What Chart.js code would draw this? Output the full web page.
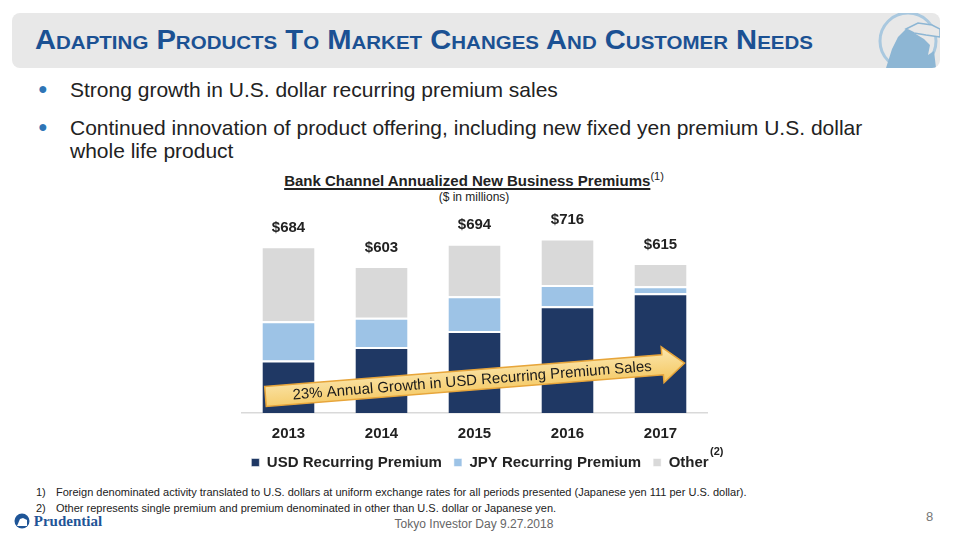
<!DOCTYPE html>
<html>
<head>
<meta charset="utf-8">
<script src="https://cdn.jsdelivr.net/npm/chart.js@4.4.0/dist/chart.umd.min.js"></script>
<style>
  html, body { margin: 0; padding: 0; background: #fff; }
  body { width: 960px; height: 540px; position: relative; overflow: hidden; font-family: "Liberation Sans", Arial, sans-serif; color: #222; }
  .titlebar { position: absolute; left: 12px; top: 13px; width: 928px; height: 55px; background: #E8E8E8; border-radius: 8px; overflow: hidden; }
  .title { position: absolute; left: 23px; top: 12px; font-size: 27px; font-weight: bold; font-variant: small-caps; color: #1B5193; white-space: nowrap; transform-origin: left top; }
  .logo { position: absolute; right: 0px; top: 0px; }
  .bullet { position: absolute; left: 38px; font-size: 21px; color: #222; }
  .bullet .dot { position: absolute; left: 0; color: #2E75B6; font-size: 16px; top: 2px; }
  .bullet .txt { position: absolute; left: 32px; white-space: nowrap; line-height: 23px; }
  .ctitle { position: absolute; left: 0; width: 948px; text-align: center; top: 170px; font-size: 15px; font-weight: bold; }
  .ctitle u { text-decoration-thickness: 1.5px; text-underline-offset: 2px; }
  .ctitle sup { font-weight: normal; font-size: 11px; }
  .csub { position: absolute; left: 0; width: 948px; text-align: center; top: 190px; font-size: 12px; }
  #wrap { position: absolute; left: 200px; top: 200px; width: 560px; height: 280px; }
  .sup2 { position: absolute; left: 710px; top: 445px; font-size: 11px; font-weight: bold; }
  .foot { position: absolute; left: 36px; font-size: 11px; }
  .foot span { position: absolute; left: 20px; white-space: nowrap; }
  .event { position: absolute; left: 0; width: 948px; text-align: center; top: 517px; font-size: 12px; color: #666; }
  .page { position: absolute; left: 926px; top: 509px; font-size: 13px; color: #777; }
  .pru { position: absolute; left: 14px; top: 513px; font-family: "Liberation Serif", serif; font-weight: bold; font-size: 15px; color: #1F5597; }
</style>
</head>
<body>
<div class="titlebar">
  <div class="title" id="title">Adapting Products To Market Changes And Customer Needs</div>
  <svg class="logo" width="76" height="55" viewBox="0 0 76 55">
    <circle cx="44" cy="28" r="28" fill="none" stroke="#A9C8DF" stroke-width="3"/>
    <path d="M22 55 L28 36 L34 24 L42 16 L50 20 L60 26 L66 32 L64 42 L70 38 L72 55 Z" fill="#8DB6D4"/>
    <path d="M42 16 L54 10 L68 12 L76 16 L76 24 L62 22 L50 20 Z" fill="#E8E8E8" stroke="#8DB6D4" stroke-width="1.5"/>
  </svg>
</div>

<div class="bullet" style="top:78px"><span class="dot">&#9679;</span><span class="txt">Strong growth in U.S. dollar recurring premium sales</span></div>
<div class="bullet" style="top:116px"><span class="dot">&#9679;</span><span class="txt">Continued innovation of product offering, including new fixed yen premium U.S. dollar<br>whole life product</span></div>

<div class="ctitle"><u>Bank Channel Annualized New Business Premiums</u><sup>(1)</sup></div>
<div class="csub">($ in millions)</div>

<div id="wrap"><canvas id="chart"></canvas></div>
<div class="sup2">(2)</div>

<div class="foot" style="top:486px">1)<span>Foreign denominated activity translated to U.S. dollars at uniform exchange rates for all periods presented (Japanese yen 111 per U.S. dollar).</span></div>
<div class="foot" style="top:502px">2)<span>Other represents single premium and premium denominated in other than U.S. dollar or Japanese yen.</span></div>

<div class="pru">
  <svg width="16" height="16" viewBox="0 0 16 16" style="vertical-align:-3px"><circle cx="8" cy="8" r="7.5" fill="#1F5597"/><path d="M3 13 L6 6 L9 5 L13 7 L13 13 Z" fill="#fff"/></svg>
  Prudential
</div>
<div class="event">Tokyo Investor Day 9.27.2018</div>
<div class="page">8</div>

<script>
// fit title width to the slide's title span
(function() {
    const t = document.getElementById('title');
    const w = t.getBoundingClientRect().width;
    t.style.transform = 'scaleX(' + (778 / w) + ')';
})();

const years = ['2013', '2014', '2015', '2016', '2017'];
const usdRecurring = [215, 271, 336, 438, 491];
const jpyRecurring = [161, 120, 143, 87, 29];
const otherPremium = [308, 212, 215, 191, 95];
const totalLabels = ['$684', '$603', '$694', '$716', '$615'];
const growthText = '23% Annual Growth in USD Recurring Premium Sales';

// total labels above each stack
const totalsPlugin = {
    id: 'totals',
    afterDatasetsDraw(chart) {
        const ctx = chart.ctx;
        const meta = chart.getDatasetMeta(2);
        ctx.save();
        ctx.font = 'bold 15px "Liberation Sans", Arial, sans-serif';
        ctx.fillStyle = '#222';
        ctx.textAlign = 'center';
        ctx.textBaseline = 'bottom';
        meta.data.forEach((bar, i) => {
            ctx.fillText(totalLabels[i], bar.x, bar.y - 11);
        });
        ctx.restore();
    }
};

// growth arrow across the USD bars
const arrowPlugin = {
    id: 'growthArrow',
    afterDatasetsDraw(chart) {
        const ctx = chart.ctx;
        const y = chart.scales.y;
        const bars = chart.getDatasetMeta(0).data;
        const x0 = bars[0].x - bars[0].width / 2 + 3;
        const x1 = bars[4].x + bars[4].width / 2 - 2;
        const y0 = y.getPixelForValue(68);
        const y1 = y.getPixelForValue(205);
        const ang = Math.atan2(y1 - y0, x1 - x0);
        const len = Math.hypot(x1 - x0, y1 - y0);
        const half = 10, headHalf = 18, headLen = 22;
        ctx.save();
        ctx.translate(x0, y0);
        ctx.rotate(ang);
        const g = ctx.createLinearGradient(0, -headHalf, 0, headHalf);
        g.addColorStop(0, '#FBE7B0');
        g.addColorStop(1, '#F4C65C');
        ctx.beginPath();
        ctx.moveTo(0, -half);
        ctx.lineTo(len - headLen, -half);
        ctx.lineTo(len - headLen, -headHalf);
        ctx.lineTo(len, 0);
        ctx.lineTo(len - headLen, headHalf);
        ctx.lineTo(len - headLen, half);
        ctx.lineTo(0, half);
        ctx.closePath();
        ctx.fillStyle = g;
        ctx.fill();
        ctx.strokeStyle = '#E7A53A';
        ctx.lineWidth = 1.5;
        ctx.stroke();
        ctx.font = '15px "Liberation Sans", Arial, sans-serif';
        ctx.fillStyle = '#1a1a1a';
        ctx.textAlign = 'center';
        ctx.textBaseline = 'middle';
        ctx.fillText(growthText, (len - headLen) / 2 + 8, 1);
        ctx.restore();
    }
};

new Chart(document.getElementById('chart'), {
    type: 'bar',
    data: {
        labels: years,
        datasets: [
            { label: 'USD Recurring Premium', data: usdRecurring, backgroundColor: '#1F3864' },
            { label: 'JPY Recurring Premium', data: jpyRecurring, backgroundColor: '#9DC3E6' },
            { label: 'Other', data: otherPremium, backgroundColor: '#D9D9D9' }
        ]
    },
    options: {
        responsive: true,
        maintainAspectRatio: false,
        animation: false,
        layout: { padding: { top: 7, left: 0, right: 0, bottom: 0 } },
        datasets: {
            bar: {
                categoryPercentage: 1,
                barPercentage: 0.56,
                borderColor: '#ffffff',
                borderWidth: { top: 2 },
                borderSkipped: false
            }
        },
        scales: {
            x: {
                stacked: true,
                grid: { display: false, drawTicks: false },
                border: { display: true, color: '#D9D9D9', width: 1.5 },
                ticks: { color: '#222', padding: 12, font: { family: '"Liberation Sans", Arial, sans-serif', size: 15, weight: 'bold' } },
                afterFit: s => { s.height = 30; }
            },
            y: {
                stacked: true,
                min: 0,
                max: 845,
                grid: { display: false },
                border: { display: false },
                ticks: { display: false },
                afterFit: s => { s.width = 42; }
            },
            yRight: {
                type: 'linear',
                position: 'right',
                grid: { display: false },
                border: { display: false },
                ticks: { display: false },
                afterFit: s => { s.width = 53; }
            }
        },
        plugins: {
            legend: {
                position: 'bottom',
                labels: {
                    boxWidth: 8,
                    boxHeight: 8,
                    padding: 12,
                    color: '#222',
                    font: { family: '"Liberation Sans", Arial, sans-serif', size: 15, weight: 'bold' }
                }
            },
            tooltip: { enabled: false }
        }
    },
    plugins: [totalsPlugin, arrowPlugin]
});
</script>
</body>
</html>
